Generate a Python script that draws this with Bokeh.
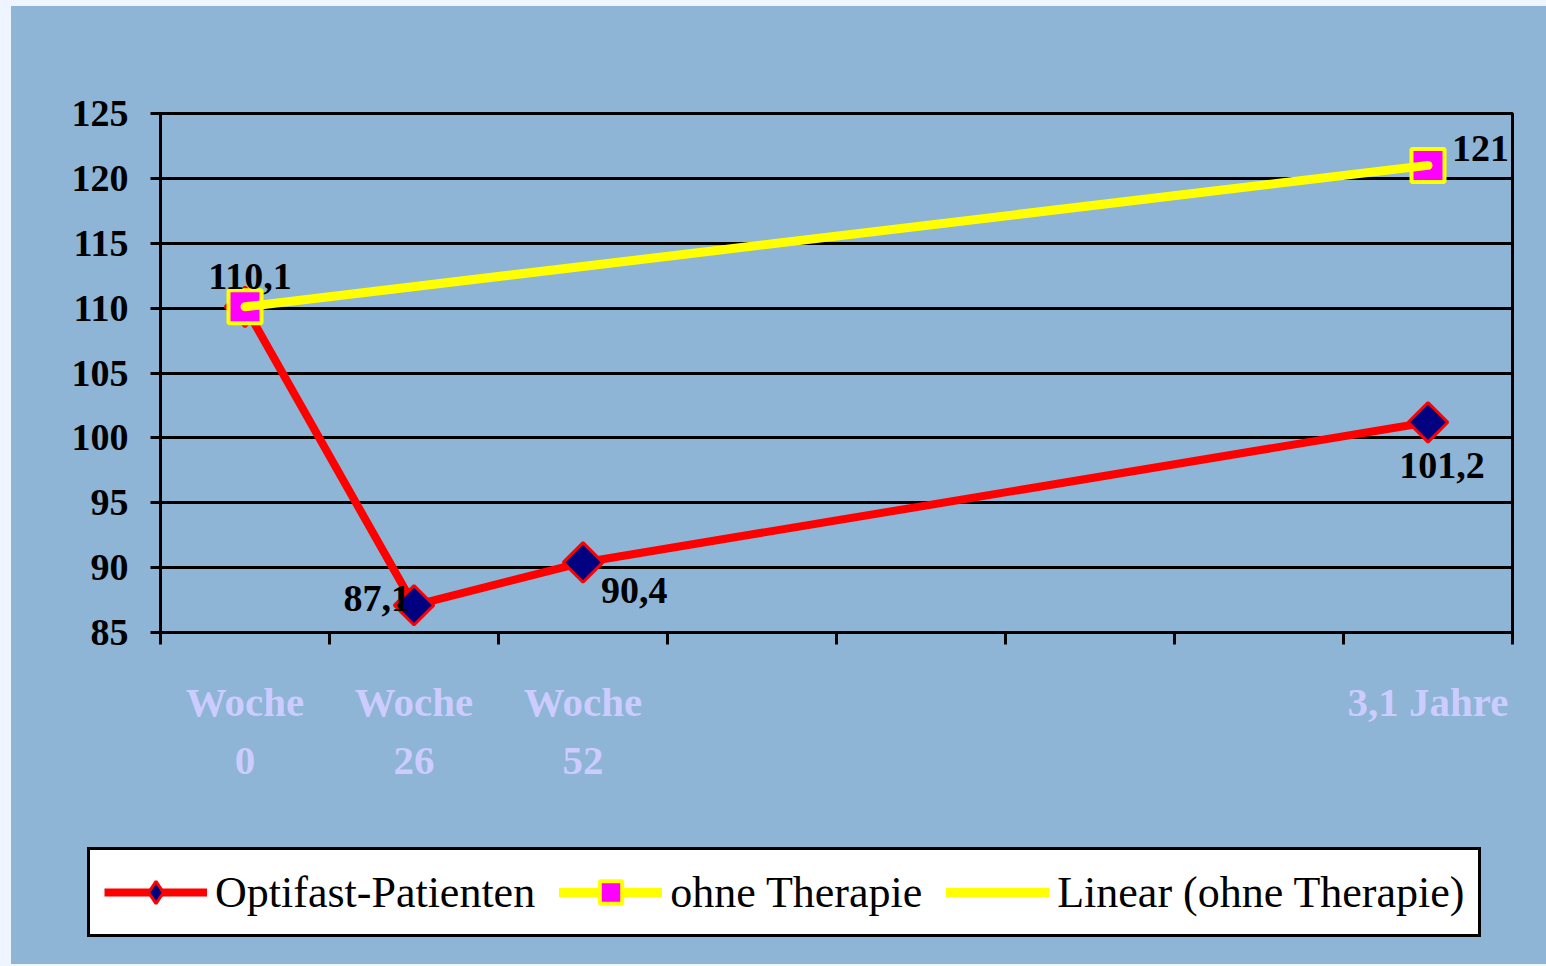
import numpy as np
from bokeh.plotting import figure
from bokeh.models import Range1d, FixedTicker, Legend, LegendItem
from bokeh.core.properties import value
from bokeh.embed import file_html
from bokeh.resources import INLINE

# ---- data ----
categories = ["Woche 0", "Woche 26", "Woche 52", "", "", "", "", "3,1 Jahre"]
tick_labels = ["Woche\n0", "Woche\n26", "Woche\n52", "", "", "", "", "3,1 Jahre"]
optifast = [110.1, 87.1, 90.4, None, None, None, None, 101.2]
ohne_therapie = [110.1, None, None, None, None, None, None, 121.0]
y_ticks = [85, 90, 95, 100, 105, 110, 115, 120, 125]
series_names = ["Optifast-Patienten", "ohne Therapie", "Linear (ohne Therapie)"]

BG = "#8EB4D6"
SERIF = "Liberation Serif"
W = 1534

n = len(categories)
xs = [i + 0.5 for i in range(n)]

def fmt(v):
    if float(v).is_integer():
        return str(int(v))
    return ("%.1f" % v).replace(".", ",")

p = figure(width=W, height=824, output_backend="svg", toolbar_location=None,
           x_range=Range1d(0, n), y_range=Range1d(min(y_ticks), max(y_ticks)),
           min_border_left=149, min_border_right=33, min_border_top=107, min_border_bottom=198)
p.background_fill_color = BG
p.border_fill_color = BG
p.outline_line_color = "black"
p.outline_line_width = 3

# grid
p.xgrid.grid_line_color = None
p.ygrid.grid_line_color = "black"
p.ygrid.grid_line_width = 3
p.ygrid.ticker = FixedTicker(ticks=y_ticks)

# y axis
p.yaxis.ticker = FixedTicker(ticks=y_ticks, minor_ticks=[])
p.yaxis.axis_line_width = 3
p.yaxis.major_tick_line_width = 3
p.yaxis.major_tick_out = 10
p.yaxis.major_tick_in = 0
p.yaxis.minor_tick_line_color = None
p.yaxis.major_label_standoff = 22
p.yaxis.major_label_text_font = SERIF
p.yaxis.major_label_text_font_size = "38px"
p.yaxis.major_label_text_font_style = "bold"
p.yaxis.major_label_text_color = "black"

# x axis: ticks at category boundaries (minor), labels at centres
p.xaxis.ticker = FixedTicker(ticks=xs, minor_ticks=list(range(n + 1)))
p.xaxis.major_label_overrides = {x: lab for x, lab in zip(xs, tick_labels)}
p.xaxis.axis_line_width = 3
p.xaxis.major_tick_line_color = None
p.xaxis.major_tick_out = 12
p.xaxis.major_tick_in = 0
p.xaxis.minor_tick_line_color = "black"
p.xaxis.minor_tick_line_width = 3
p.xaxis.minor_tick_out = 12
p.xaxis.minor_tick_in = 0
p.xaxis.major_label_standoff = 34
p.xaxis.major_label_text_font = SERIF
p.xaxis.major_label_text_font_size = "41px"
p.xaxis.major_label_text_font_style = "bold"
p.xaxis.major_label_text_color = "#CCCCFF"
p.xaxis.major_label_text_line_height = 1.27

OPT_LINE = dict(line_color="red", line_width=8, line_join="round")
OPT_MARK = dict(marker="square", angle=np.pi / 4, size=28,
                fill_color="#000080", line_color="red", line_width=3)
OPT_MARK_LEG = dict(marker="diamond", size=30,
                    fill_color="#000080", line_color="red", line_width=3)
OHNE_MARK = dict(marker="square", size=33, fill_color="#FF00FF",
                 line_color="#FFFF00", line_width=4)
YEL_LINE = dict(line_color="#FFFF00", line_width=9, line_cap="round")

# Optifast series
ox = [x for x, v in zip(xs, optifast) if v is not None]
oy = [v for v in optifast if v is not None]
p.line(ox, oy, **OPT_LINE)
p.scatter(ox, oy, **OPT_MARK)

# ohne Therapie series (isolated points)
tx = [x for x, v in zip(xs, ohne_therapie) if v is not None]
ty = [v for v in ohne_therapie if v is not None]
p.scatter(tx, ty, **OHNE_MARK)

# linear trendline of ohne Therapie
coef = np.polyfit(tx, ty, 1)
trend_x = [min(tx), max(tx)]
trend_y = [coef[0] * x + coef[1] for x in trend_x]
p.line(trend_x, trend_y, **YEL_LINE)

# data labels
lab_style = dict(text_font=value(SERIF), text_font_size="38px", text_font_style="bold",
                 text_color="black", text_baseline="alphabetic")
p.text(x=[xs[0]], y=[ohne_therapie[0]], text=[fmt(ohne_therapie[0])],
       x_offset=5, y_offset=-30, text_align="center", **lab_style)
p.text(x=[xs[7]], y=[ohne_therapie[7]], text=[fmt(ohne_therapie[7])],
       x_offset=24, y_offset=-17, text_align="left", **lab_style)
p.text(x=[xs[1]], y=[optifast[1]], text=[fmt(optifast[1])],
       x_offset=-4, y_offset=-7, text_align="right", **lab_style)
p.text(x=[xs[2]], y=[optifast[2]], text=[fmt(optifast[2])],
       x_offset=18, y_offset=28, text_align="left", **lab_style)
p.text(x=[xs[7]], y=[optifast[7]], text=[fmt(optifast[7])],
       x_offset=14, y_offset=43, text_align="center", **lab_style)

# ---- legend strip (separate root figure below the chart) ----
lf = figure(width=W, height=134, output_backend="svg", toolbar_location=None,
            x_range=Range1d(0, 1), y_range=Range1d(0, 1),
            x_axis_location=None, y_axis_location=None, min_border=0)
lf.background_fill_color = BG
lf.border_fill_color = BG
lf.outline_line_color = None
lf.grid.grid_line_color = None
hx, hy = [-10, -9], [-10, -9]  # off-range, only the legend swatches are visible
l1 = lf.line(hx, hy, **OPT_LINE)
m1 = lf.scatter(hx, hy, **OPT_MARK_LEG)
l2 = lf.line(hx, hy, **YEL_LINE)
m2 = lf.scatter(hx, hy, **OHNE_MARK)
l3 = lf.line(hx, hy, **YEL_LINE)

legend = Legend(items=[
    LegendItem(label=series_names[0], renderers=[l1, m1]),
    LegendItem(label=series_names[1], renderers=[l2, m2]),
    LegendItem(label=series_names[2], renderers=[l3]),
], orientation="horizontal", location=(76, 27))
legend.label_text_font = SERIF
legend.label_text_font_size = "44px"
legend.label_text_color = "black"
legend.glyph_width = 103
legend.glyph_height = 56
legend.label_height = 56
legend.label_standoff = 8
legend.spacing = 24
legend.padding = 14
legend.margin = 0
legend.border_line_color = "black"
legend.border_line_alpha = 1.0
legend.border_line_width = 3
legend.background_fill_color = "white"
legend.background_fill_alpha = 1.0
lf.add_layout(legend, "center")

html = file_html([p, lf], INLINE, title="Optifast")
html = html.replace("</head>",
                    "<style>html{margin:0 !important;padding:0 !important;background:#EEF5FF !important;}"
                    "body{margin:6px 0 0 11px !important;padding:0 !important;height:auto !important;"
                    "background:" + BG + " !important;}</style></head>", 1)
open("out.html", "w").write(html)
